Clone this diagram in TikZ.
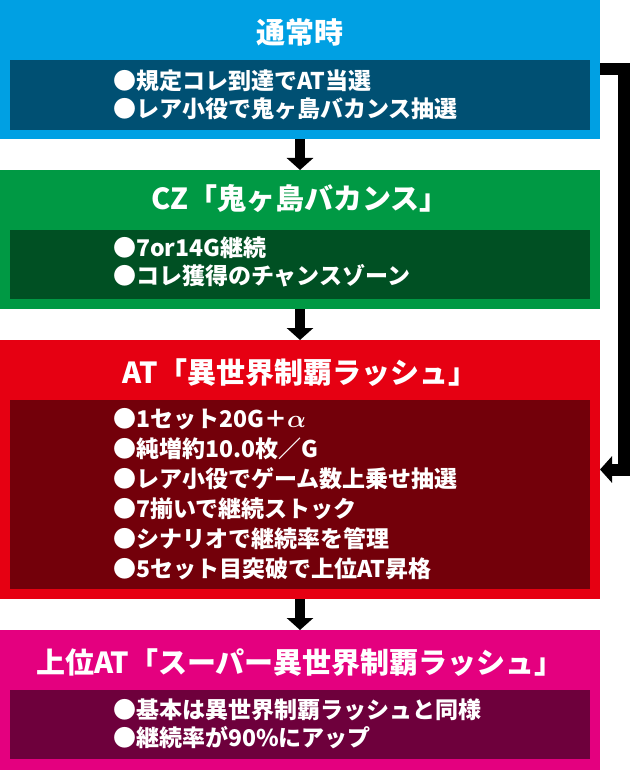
\documentclass[tikz,border=0pt]{standalone}
\usepackage{fontspec}
\setmainfont{Noto Sans CJK JP}[BoldFont={Noto Sans CJK JP Black}]
\usetikzlibrary{arrows.meta,positioning}
\definecolor{normalblue}{RGB}{0,160,227}
\definecolor{normalnavy}{RGB}{0,80,115}
\definecolor{czgreen}{RGB}{0,153,68}
\definecolor{czdark}{RGB}{0,80,35}
\definecolor{atred}{RGB}{230,0,18}
\definecolor{atdark}{RGB}{115,0,10}
\definecolor{superpink}{RGB}{228,0,127}
\definecolor{superdark}{RGB}{110,0,60}
\tikzset{
  outerbox/.style={rectangle, minimum width=600pt, inner sep=0pt, outer sep=0pt},
  innerbox/.style={rectangle, minimum width=580pt, inner sep=0pt, outer sep=0pt},
  titletext/.style={text=white, inner sep=0pt, font=\fontsize{29}{29}\selectfont\bfseries},
  notetext/.style={text=white, anchor=west, align=left, inner sep=0pt, font=\fontsize{23}{28}\selectfont\bfseries},
  flow/.style={line width=10pt, -{Triangle[width=26pt,length=12pt]}},
  loopback/.style={line width=12pt, -{Triangle[width=26pt,length=12pt]}}
}
\newcommand{\phaseblock}[3] {\node at (#1) (#2) [outerbox, #3] {};}
\newcommand{\phasepanel}[3] {\node at (#1) (#2) [innerbox, #3] {};}
\newcommand{\phasetitle}[3] {\node at (#1) (#2) [titletext] {#3};}
\newcommand{\phasenotes}[3] {\node at (#1) (#2) [notetext] {#3};}
\newcommand{\phaseflow}[2] {\draw [flow] (#1) -- (#2);}

\begin{document}
\begin{tikzpicture}[x=1pt, y=-1pt]
\useasboundingbox (0,0) rectangle (630,770);

\phaseblock{300,69.5}{normal}{fill=normalblue, minimum height=139pt}
\phasepanel{300,95}{normalin}{fill=normalnavy, minimum height=70pt}
\phasetitle{300,32}{normaltitle}{通常時}
\phasenotes{113,95}{normalnotes}{●規定コレ到達でAT当選\\●レア小役で鬼ヶ島バカンス抽選}

\phaseblock{300,239.5}{cz}{fill=czgreen, minimum height=139pt}
\phasepanel{300,264.5}{czin}{fill=czdark, minimum height=69pt}
\phasetitle{300,199}{cztitle}{CZ「鬼ヶ島バカンス」}
\phasenotes{113,262}{cznotes}{●7or14G継続\\●コレ獲得のチャンスゾーン}

\phaseblock{300,469.5}{at}{fill=atred, minimum height=259pt}
\phasepanel{300,494.5}{atin}{fill=atdark, minimum height=189pt}
\phasetitle{300,373}{attitle}{AT「異世界制覇ラッシュ」}
\node at (113,494.5) (atnotes) [notetext, font=\fontsize{23}{30}\selectfont\bfseries] {●1セット20G＋{\boldmath$\alpha$}\\●純増約10.0枚／G\\●レア小役でゲーム数上乗せ抽選\\●7揃いで継続ストック\\●シナリオで継続率を管理\\●5セット目突破で上位AT昇格};

\phaseblock{300,700}{super}{fill=superpink, minimum height=140pt}
\phasepanel{300,724.5}{superin}{fill=superdark, minimum height=69pt}
\phasetitle{300,663}{supertitle}{上位AT「スーパー異世界制覇ラッシュ」}
\phasenotes{113,724}{supernotes}{●基本は異世界制覇ラッシュと同様\\●継続率が90\%にアップ}

\coordinate (loopturn) at (624,69.5);

\phaseflow{normal}{cz}
\phaseflow{cz}{at}
\phaseflow{at}{super}
\draw [loopback] (normal.east) -- (loopturn) |- (at.east);

\end{tikzpicture}
\end{document}
